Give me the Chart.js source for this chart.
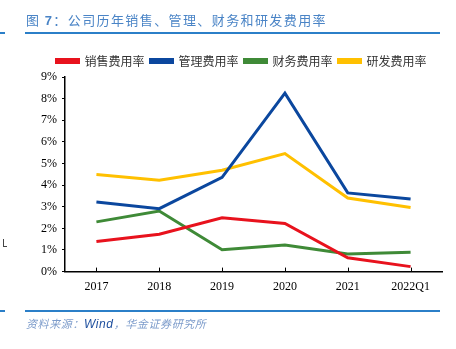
<!DOCTYPE html>
<html>
<head>
<meta charset="utf-8">
<script src="https://cdn.jsdelivr.net/npm/chart.js@4.4.1/dist/chart.umd.min.js"></script>
<style>
  body { margin: 0; background: #fff; }
  #wrap { position: relative; width: 456px; height: 349px; overflow: hidden; }
  #c { position: absolute; left: 0; top: 0; }
  .title { position: absolute; left: 26px; top: 10px; font-family: "Noto Sans CJK SC", sans-serif;
           font-size: 13px; letter-spacing: 1.4px; color: #4a84c6; white-space: nowrap; }
  .title b { font-family: Arial, "Liberation Sans", sans-serif; }
  .rule { position: absolute; height: 1.5px; background: #2b7fc8; }
  .src { position: absolute; left: 26px; top: 315px; font-family: "Noto Sans CJK SC", sans-serif;
         font-size: 11px; font-style: italic; color: #7d9ccb; white-space: nowrap; letter-spacing: 0.6px; }
  .src span { color: #1e4f9e; font-family: "Liberation Sans", Arial, sans-serif; font-size: 12px; }
  .mark { position: absolute; background: #444; }
</style>
</head>
<body>
<div id="wrap">
  <canvas id="c" width="456" height="349"></canvas>
  <div class="title">图 <b>7</b>：公司历年销售、管理、财务和研发费用率</div>
  <div class="rule" style="left:0;top:32px;width:5px"></div>
  <div class="rule" style="left:25px;top:32px;width:415px"></div>
  <div class="rule" style="left:0;top:310px;width:5px"></div>
  <div class="rule" style="left:25px;top:310px;width:415px"></div>
  <div class="src">资料来源：<span>Wind</span>，华金证券研究所</div>
  <div class="mark" style="left:3px;top:239px;width:1px;height:8px"></div>
  <div class="mark" style="left:3px;top:246px;width:4px;height:1px"></div>
</div>
<script>
// 年份
const years = ["2017", "2018", "2019", "2020", "2021", "2022Q1"];

// 各项费用率 (%)
const salesRate   = [1.39, 1.73, 2.49, 2.23, 0.64, 0.23];
const adminRate   = [3.22, 2.91, 4.36, 8.25, 3.64, 3.36];
const financeRate = [2.30, 2.80, 1.01, 1.23, 0.81, 0.90];
const rdRate      = [4.49, 4.22, 4.69, 5.46, 3.40, 2.96];

// y轴刻度
const yMax = 9;
const yStep = 1;

// x轴刻度线朝内画
const innerTicks = {
    id: 'innerTicks',
    afterDraw(chart) {
        const x = chart.scales.x;
        const ctx = chart.ctx;
        ctx.save();
        ctx.strokeStyle = '#000';
        ctx.lineWidth = 1;
        for (let i = 0; i < years.length; i++) {
            const px = Math.round(x.getPixelForTick(i)) + 0.5;
            ctx.beginPath();
            ctx.moveTo(px, x.top - 4);
            ctx.lineTo(px, x.top);
            ctx.stroke();
        }
        ctx.restore();
    }
};

function makeSet(label, data, color) {
    return {
        label: label,
        data: data,
        borderColor: color,
        backgroundColor: color,
        borderWidth: 3,
        pointRadius: 0,
        tension: 0,
        fill: false
    };
}

new Chart(document.getElementById('c'), {
    type: 'line',
    data: {
        labels: years,
        datasets: [
            makeSet('销售费用率', salesRate, '#e8121d'),
            makeSet('管理费用率', adminRate, '#0b479e'),
            makeSet('财务费用率', financeRate, '#3f8a37'),
            makeSet('研发费用率', rdRate, '#ffc000')
        ]
    },
    options: {
        responsive: false,
        devicePixelRatio: 1,
        animation: false,
        layout: { padding: { left: 41, right: 14, top: 49, bottom: 47 } },
        plugins: {
            legend: {
                position: 'top',
                labels: {
                    boxWidth: 22,
                    boxHeight: 3,
                    padding: 6,
                    color: '#333',
                    font: { family: '"Noto Sans CJK SC", sans-serif', size: 12 }
                }
            },
            tooltip: { enabled: false }
        },
        scales: {
            x: {
                offset: true,
                grid: { display: false, drawTicks: false },
                border: { color: '#000', width: 1.5 },
                ticks: {
                    color: '#000',
                    padding: 8,
                    font: { family: '"Liberation Serif", "Times New Roman", serif', size: 12 }
                }
            },
            y: {
                min: 0,
                max: yMax,
                afterFit(scale) { scale.width = 24; },
                grid: { drawOnChartArea: false, drawTicks: true, tickLength: 3, color: '#000' },
                border: { color: '#000', width: 1.5 },
                ticks: {
                    stepSize: yStep,
                    color: '#000',
                    padding: 5,
                    font: { family: '"Liberation Serif", "Times New Roman", serif', size: 12 },
                    callback: v => v + '%'
                }
            }
        }
    },
    plugins: [innerTicks]
});
</script>
</body>
</html>
